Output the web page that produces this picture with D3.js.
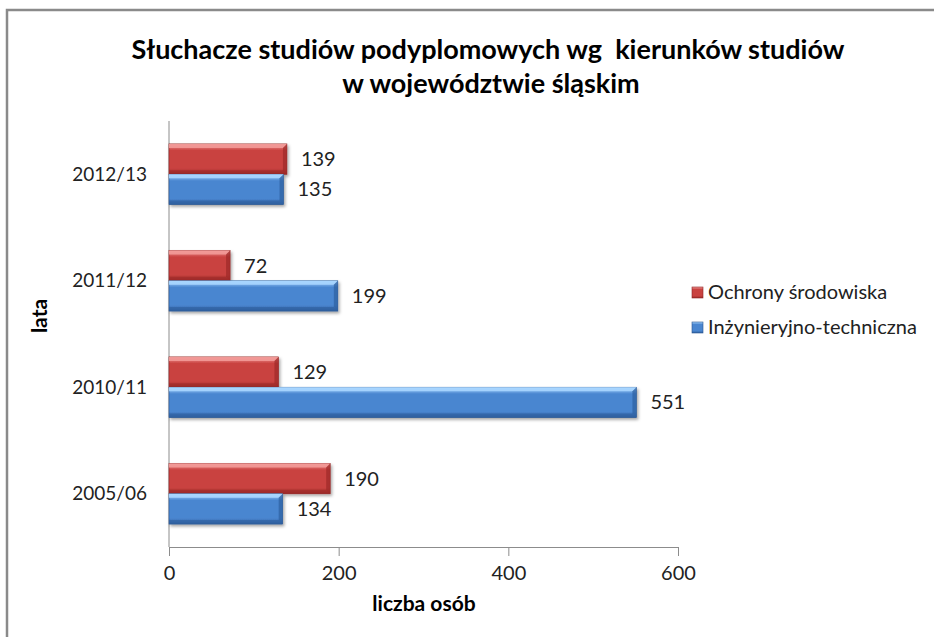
<!DOCTYPE html>
<html>
<head>
<meta charset="utf-8">
<script src="https://cdn.jsdelivr.net/npm/d3@7"></script>
<style>
body { margin: 0; background: #fff; }
svg { display: block; font-family: Lato, "Open Sans", sans-serif; }
</style>
</head>
<body>
<svg id="chart" width="934" height="637"></svg>
<script>
// data, top category first
const years = ['2012/13', '2011/12', '2010/11', '2005/06']
const ochrona = [139, 72, 129, 190]
const inzynieria = [135, 199, 551, 134]
const seriesNames = ['Ochrony środowiska', 'Inżynieryjno-techniczna']
const xTicks = [0, 200, 400, 600]

const svg = d3.select('#chart')

// outer frame (cut by the window on right/bottom)
svg.append('rect')
	.attr('x', 7).attr('y', 10)
	.attr('width', 940).attr('height', 640)
	.style('fill', '#fff')
	.style('stroke', '#8a8a8a')
	.style('stroke-width', 2.5)

const plot = {left: 169, right: 678, top: 121, bottom: 547}

const x = d3.scaleLinear().domain([0, 600]).range([plot.left, plot.right])
const y = d3.scaleBand().domain(years).range([plot.top, plot.bottom]).paddingInner(0.43).paddingOuter(0.215)
const sub = d3.scaleBand().domain([0, 1]).range([0, y.bandwidth()])

const colours = [
	{top: '#f29a98', mid: '#c94240', bot: '#9c2a28', edge: '#8e2422'},
	{top: '#a8d6ff', mid: '#4a86d0', bot: '#2e5f9f', edge: '#2a558f'}
]

const defs = svg.append('defs')
colours.forEach((c, i) => {
	let g = defs.append('linearGradient').attr('id', 'g' + i)
		.attr('x1', 0).attr('y1', 0).attr('x2', 0).attr('y2', 1)
	g.append('stop').attr('offset', '0%').attr('stop-color', c.top)
	g.append('stop').attr('offset', '22%').attr('stop-color', c.mid)
	g.append('stop').attr('offset', '80%').attr('stop-color', c.mid)
	g.append('stop').attr('offset', '100%').attr('stop-color', c.bot)
})
defs.append('filter').attr('id', 'shadow')
	.attr('x', '-5%').attr('y', '-20%').attr('width', '115%').attr('height', '150%')
	.append('feDropShadow')
	.attr('dx', 1.5).attr('dy', 2).attr('stdDeviation', 1.5)
	.attr('flood-color', '#000').attr('flood-opacity', 0.35)

// axes
svg.append('line')
	.attr('x1', plot.left).attr('x2', plot.left)
	.attr('y1', plot.top).attr('y2', plot.bottom)
	.style('stroke', '#8c8c8c')

const xAxis = svg.append('g')
	.attr('transform', `translate(0,${plot.bottom})`)
	.call(d3.axisBottom(x).tickValues(xTicks).tickSize(9).tickSizeOuter(0).tickPadding(10))
xAxis.select('.domain').style('stroke', '#8c8c8c')
xAxis.selectAll('.tick line').style('stroke', '#8c8c8c')
xAxis.selectAll('.tick text').style('font-size', '20px').style('fill', '#222')
	.style('font-family', 'Lato, sans-serif')

// bars
const rows = years.map((yr, i) => ({yr, vals: [ochrona[i], inzynieria[i]]}))
const bev = 4

rows.forEach(r => {
	r.vals.forEach((v, s) => {
		let x0 = x(0), x1 = x(v)
		let y0 = y(r.yr) + sub(s), h = sub.bandwidth()
		let g = svg.append('g')
		g.append('rect')
			.attr('x', x0).attr('y', y0)
			.attr('width', x1 - x0).attr('height', h)
			.style('fill', `url(#g${s})`)
			.style('stroke', colours[s].edge)
			.style('stroke-width', 0.6)
			.attr('filter', 'url(#shadow)')
		// bevel: top light strip, right end and bottom
		g.append('path')
			.attr('d', `M${x0},${y0} L${x1},${y0} L${x1 - bev},${y0 + bev} L${x0},${y0 + bev} Z`)
			.style('fill', colours[s].top).style('opacity', 0.9)
		g.append('path')
			.attr('d', `M${x1},${y0} L${x1},${y0 + h} L${x1 - bev},${y0 + h - bev} L${x1 - bev},${y0 + bev} Z`)
			.style('fill', colours[s].bot).style('opacity', 0.7)
		g.append('path')
			.attr('d', `M${x0},${y0 + h} L${x1},${y0 + h} L${x1 - bev},${y0 + h - bev} L${x0},${y0 + h - bev} Z`)
			.style('fill', colours[s].bot).style('opacity', 0.6)
		g.append('text')
			.attr('x', x1 + 14).attr('y', y0 + h / 2)
			.attr('dy', '0.35em')
			.style('font-size', '20px').style('fill', '#222')
			.text(v)
	})
})

// category labels
svg.selectAll('.cat').data(years).join('text')
	.attr('class', 'cat')
	.attr('x', 147).attr('y', d => y(d) + y.bandwidth() / 2)
	.attr('dy', '0.35em')
	.attr('text-anchor', 'end')
	.style('font-size', '19px').style('fill', '#222')
	.text(d => d)

// titles
const title = svg.append('text')
	.attr('text-anchor', 'middle')
	.style('font-size', '27px').style('font-weight', 'bold')
	.style('white-space', 'pre')
title.append('tspan').attr('x', 488).attr('y', 59).text('Słuchacze studiów podyplomowych wg  kierunków studiów')
title.append('tspan').attr('x', 491).attr('y', 93).text('w województwie śląskim')

svg.append('text')
	.attr('transform', 'translate(47,316) rotate(-90)')
	.attr('text-anchor', 'middle')
	.style('font-size', '21px').style('font-weight', 'bold')
	.text('lata')

svg.append('text')
	.attr('x', 424).attr('y', 611)
	.attr('text-anchor', 'middle')
	.style('font-size', '21px').style('font-weight', 'bold')
	.text('liczba osób')

// legend
const legend = svg.selectAll('.leg').data(seriesNames).join('g')
	.attr('class', 'leg')
	.attr('transform', (d, i) => `translate(692,${292 + i * 35})`)
legend.append('rect')
	.attr('x', 0).attr('y', -5).attr('width', 11).attr('height', 11)
	.style('fill', (d, i) => `url(#g${i})`)
	.style('stroke', (d, i) => colours[i].edge).style('stroke-width', 0.6)
legend.append('text')
	.attr('x', 16).attr('dy', '0.35em')
	.style('font-size', '20px').style('fill', '#222')
	.text(d => d)
</script>
</body>
</html>
